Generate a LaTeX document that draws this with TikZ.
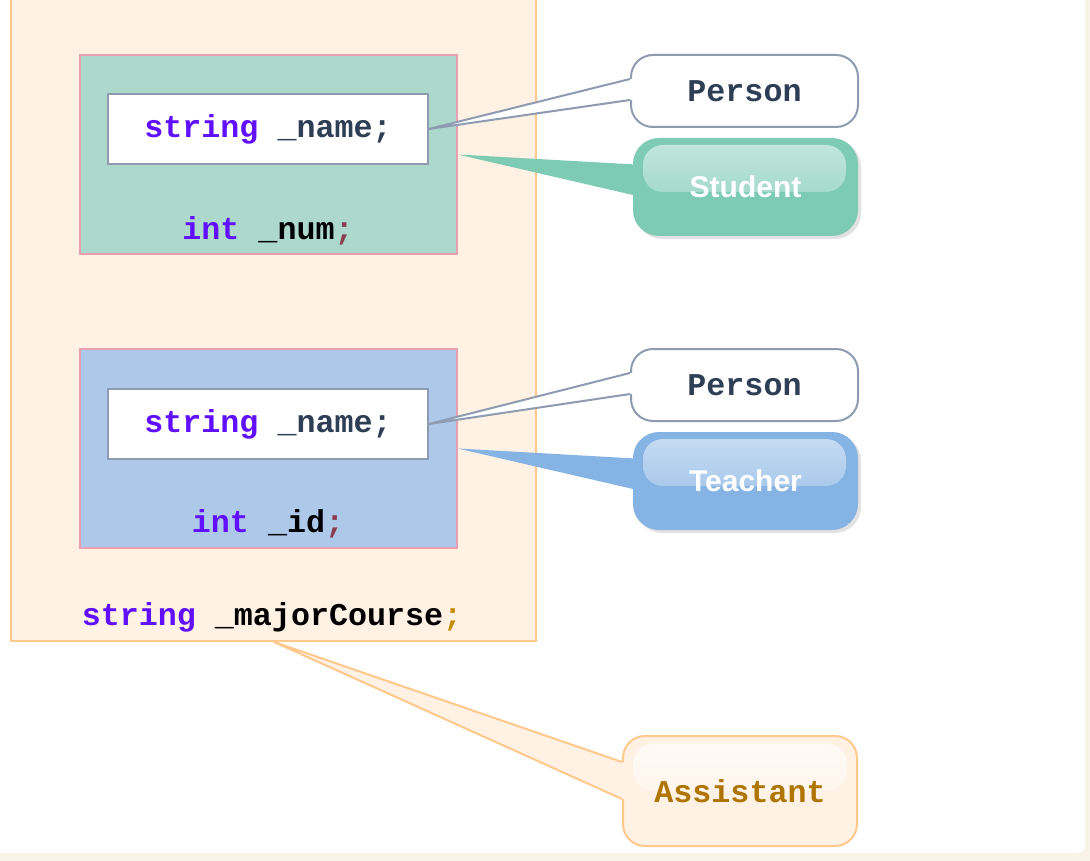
\documentclass[tikz,border=0pt]{standalone}
\usepackage{fontspec}
\setmainfont{Liberation Sans}
\setsansfont{Liberation Sans}
\setmonofont{Liberation Mono}
\usetikzlibrary{positioning,calc,shadows}
\definecolor{pagecream}{RGB}{247,243,230}
\definecolor{objorange}{RGB}{255,241,228}
\definecolor{objorangeline}{RGB}{255,200,140}
\definecolor{objgreen}{RGB}{172,217,204}
\definecolor{objblue}{RGB}{173,200,232}
\definecolor{objpink}{RGB}{232,160,176}
\definecolor{fieldgray}{RGB}{142,155,176}
\definecolor{tagslate}{RGB}{46,62,85}
\definecolor{tagteal}{RGB}{126,203,180}
\definecolor{tagsky}{RGB}{133,179,227}
\definecolor{kwpurple}{RGB}{96,16,255}
\definecolor{semired}{RGB}{140,60,80}
\definecolor{semiamber}{RGB}{200,140,0}
\definecolor{amber}{RGB}{176,116,0}
\newcommand{\codefont}{\fontsize{31.7}{38}\selectfont\ttfamily\bfseries}
\newcommand{\badgefont}{\fontsize{30}{36}\selectfont\sffamily\bfseries}

\begin{document}
\begin{tikzpicture}[
    x=1pt,y=-1pt,
    obj/.style={draw=objpink,line width=1.5pt,minimum width=377pt,minimum height=199pt},
    field/.style={draw=fieldgray,fill=white,line width=1.5pt,minimum width=320pt,minimum height=70pt,font=\codefont},
    code/.style={inner sep=0pt,font=\codefont},
    tag/.style={rounded corners=22pt,minimum width=227pt,minimum height=72pt,line width=2pt,font=\codefont},
    badge/.style={rounded corners=26pt,minimum width=225pt,minimum height=98pt,font=\badgefont,text=white,fill=#1,
      drop shadow={shadow xshift=3pt,shadow yshift=-3pt,fill=black!22},
      path picture={\shade[top color=white!55!#1,bottom color=#1!90!white,rounded corners=20pt]
        ($(path picture bounding box.north west)+(10,7)$) rectangle ($(path picture bounding box.north east)+(-12,54)$);}}
  ]
    \useasboundingbox (0,0) rectangle (1090,861);
    \fill[pagecream] (0,0) rectangle (1090,861);
    \fill[white,rounded corners=8pt] (-20,-20) rectangle (1085,853);

    \node[draw=objorangeline,fill=objorange,line width=1.5pt,minimum width=525pt,minimum height=660pt] (assistantObj) at (273.5,311) {};
    \node[obj,fill=objgreen] (studentObj) at (268.5,154.5) {};
    \node[field] (studentName) at (268,129) {\color{kwpurple}string \color{tagslate}\_name;};
    \node[code] (numField) at (268,231) {\color{kwpurple}int \color{black}\_num\color{semired};};
    \node[obj,fill=objblue] (teacherObj) at (268.5,448.5) {};
    \node[field] (teacherName) at (268,424) {\color{kwpurple}string \color{tagslate}\_name;};
    \node[code] (idField) at (268,524) {\color{kwpurple}int \color{black}\_id\color{semired};};
    \node[code] (courseField) at (272,617) {\color{kwpurple}string \color{black}\_majorCourse\color{semiamber};};

    \node[tag,draw=fieldgray,fill=white,text=tagslate] (person1) at (744.5,91) {Person};
    \node[badge=tagteal] (student) at (745.5,187) {Student};
    \node[tag,draw=fieldgray,fill=white,text=tagslate] (person2) at (744.5,385) {Person};
    \node[badge=tagsky] (teacher) at (745.5,481) {Teacher};
    \node[tag,draw=objorangeline,fill=objorange,text=amber,minimum width=234pt,minimum height=110pt,
      path picture={\shade[top color=white!70!objorange,bottom color=objorange,rounded corners=20pt]
        ($(path picture bounding box.north west)+(10,8)$) rectangle ($(path picture bounding box.north east)+(-10,55)$);}] (assistant) at (740,791) {Assistant};

    \fill[white] (studentName.east) -- ($(person1.north west)+(0,25)$) -- ($(person1.north west)+(5,25)$) -- ($(person1.north west)+(5,46)$) -- ($(person1.north west)+(0,46)$) -- cycle;
    \draw[fieldgray,line width=2pt] ($(person1.north west)+(0,25)$) -- (studentName.east) -- ($(person1.north west)+(0,46)$);
    \fill[tagteal] (studentObj.east) -- ($(student.north west)+(8,27)$) -- ($(student.north west)+(8,59)$) -- cycle;

    \fill[white] (teacherName.east) -- ($(person2.north west)+(0,25)$) -- ($(person2.north west)+(5,25)$) -- ($(person2.north west)+(5,46)$) -- ($(person2.north west)+(0,46)$) -- cycle;
    \draw[fieldgray,line width=2pt] ($(person2.north west)+(0,25)$) -- (teacherName.east) -- ($(person2.north west)+(0,46)$);
    \fill[tagsky] (teacherObj.east) -- ($(teacher.north west)+(8,27)$) -- ($(teacher.north west)+(8,59)$) -- cycle;

    \fill[objorange] (assistantObj.south) -- ($(assistant.north west)+(0,27)$) -- ($(assistant.north west)+(6,27)$) -- ($(assistant.north west)+(6,64)$) -- ($(assistant.north west)+(0,64)$) -- cycle;
    \draw[objorangeline,line width=2pt] ($(assistant.north west)+(0,27)$) -- (assistantObj.south) -- ($(assistant.north west)+(0,64)$);
  \end{tikzpicture}
\end{document}
